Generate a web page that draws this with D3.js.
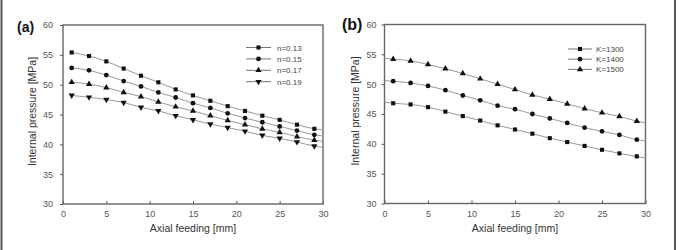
<!DOCTYPE html>
<html><head><meta charset="utf-8">
<script src="https://cdn.jsdelivr.net/npm/d3@7"></script>
<style>body{margin:0;background:#fff}svg{display:block;font-family:"Liberation Sans",Arial,sans-serif}</style>
</head><body><svg id="c" width="680" height="250"></svg>
<script>
const xs = [1,3,5,7,9,11,13,15,17,19,21,23,25,27,29];
const xTicks = [0,5,10,15,20,25,30];
const yTicks = [30,35,40,45,50,55,60];

const seriesA = ["n=0.13","n=0.15","n=0.17","n=0.19"];
const a013 = [55.4,54.8,53.9,52.7,51.5,50.4,49.2,48.2,47.3,46.4,45.6,44.8,44.1,43.3,42.6];
const a015 = [52.8,52.4,51.6,50.6,49.7,48.7,47.85,46.9,46.1,45.2,44.4,43.7,43.0,42.3,41.6];
const a017 = [50.4,50.1,49.5,48.7,48.0,47.1,46.3,45.6,44.8,44.0,43.3,42.6,42.0,41.3,40.7];
const a019 = [48.2,47.9,47.5,47.0,46.2,45.6,44.8,44.1,43.4,42.8,42.2,41.5,41.0,40.4,39.7];
const aEnd = [42.4,41.4,40.5,39.5];

const seriesB = ["K=1300","K=1400","K=1500"];
const b1300 = [46.8,46.6,46.15,45.4,44.65,43.9,43.1,42.4,41.7,40.95,40.3,39.65,39.0,38.4,37.9];
const b1400 = [50.5,50.2,49.7,49.0,48.1,47.3,46.4,45.8,45.0,44.25,43.5,42.7,42.1,41.5,40.7];
const b1500 = [54.2,53.9,53.3,52.6,51.8,50.9,50.0,49.1,48.2,47.5,46.7,45.9,45.2,44.6,43.8];
const bStart = [47.0,50.6,54.3];
const bEnd = [37.6,40.5,43.5];

const svg = d3.select("#c");
svg.append("line").attr("x1",1.5).attr("x2",1.5).attr("y1",0).attr("y2",250).attr("stroke","#555").attr("stroke-width",2);
svg.append("line").attr("x1",675).attr("x2",675).attr("y1",0).attr("y2",250).attr("stroke","#555").attr("stroke-width",2);

function drawMarker(g, x, y, i){
  if (i === 3){
    g.append("path").attr("d", d3.symbol(d3.symbolTriangle, 17)()).attr("transform",`translate(${x},${y}) rotate(180)`).attr("fill","#111");
  } else {
    const s = [d3.symbolSquare, d3.symbolCircle, d3.symbolTriangle][i];
    const size = [17,18,17][i];
    g.append("path").attr("d", d3.symbol(s, size)()).attr("transform",`translate(${x},${y})`).attr("fill","#111");
  }
}

function panel(opts){
  const {left,right,top,bottom,label,labelX,labelY,series,names,starts,ends,leg,markerIdx,titleX,tickLabelGap} = opts;
  const g = svg.append("g");
  const x = d3.scaleLinear().domain([0,30]).range([left,right]);
  const y = d3.scaleLinear().domain([30,60]).range([bottom,top]);
  const ya = g.append("g").attr("transform",`translate(${left},0)`)
    .call(d3.axisLeft(y).tickValues(yTicks).tickSize(3).tickPadding(tickLabelGap));
  const xa = g.append("g").attr("transform",`translate(0,${bottom})`)
    .call(d3.axisBottom(x).tickValues(xTicks).tickSizeInner(-3).tickSizeOuter(0).tickPadding(7));
  [ya,xa].forEach(a=>{
    a.select(".domain").remove();
    a.selectAll("line").attr("stroke","#555");
    a.selectAll("text").attr("fill","#555").style("font-size","9px");
  });
  g.append("rect").attr("x",left).attr("y",top).attr("width",right-left).attr("height",bottom-top)
    .attr("fill","none").attr("stroke","#666").attr("stroke-width",1.4);
  const line = d3.line().x(d=>x(d[0])).y(d=>y(d[1])).curve(d3.curveMonotoneX);
  series.forEach((vals,i)=>{
    let pts = xs.map((xv,j)=>[xv,vals[j]]);
    if (starts) pts = [[0,starts[i]]].concat(pts);
    pts = pts.concat([[30,ends[i]]]);
    g.append("path").attr("d",line(pts)).attr("fill","none").attr("stroke","#999").attr("stroke-width",1);
  });
  series.forEach((vals,i)=>{
    xs.forEach((xv,j)=>drawMarker(g, x(xv), y(vals[j]), markerIdx[i]));
  });
  names.forEach((n,i)=>{
    const ly = leg.y + i*leg.dy;
    g.append("line").attr("x1",leg.x1).attr("x2",leg.x2).attr("y1",ly).attr("y2",ly).attr("stroke","#777").attr("stroke-width",1);
    drawMarker(g,(leg.x1+leg.x2)/2, ly, markerIdx[i]);
    g.append("text").attr("x",leg.tx).attr("y",ly+3).text(n).attr("fill","#444").style("font-size","8px");
  });
  g.append("text").attr("x",(left+right)/2).attr("y",232).attr("text-anchor","middle").attr("fill","#333").style("font-size","10.5px").text("Axial feeding [mm]");
  g.append("text").attr("transform",`translate(${titleX},${(top+bottom)/2 - 3}) rotate(-90)`).attr("text-anchor","middle").attr("fill","#333").style("font-size","10.5px").text("Internal pressure [MPa]");
  g.append("text").attr("x",labelX).attr("y",labelY).attr("fill","#111").style("font-size",opts.labelSize).style("font-weight","bold").text(label);
}

panel({left:63,right:323,top:25,bottom:204,label:"(a)",labelX:17,labelY:32,labelSize:"14px",
  series:[a013,a015,a017,a019],names:seriesA,starts:null,ends:aEnd,markerIdx:[0,1,2,3],
  leg:{x1:246,x2:271,y:47.5,dy:11.4,tx:277},titleX:36,tickLabelGap:7});
panel({left:384.5,right:645.5,top:24.5,bottom:203.5,label:"(b)",labelX:342,labelY:30,labelSize:"16px",
  series:[b1300,b1400,b1500],names:seriesB,starts:bStart,ends:bEnd,markerIdx:[0,1,2],
  leg:{x1:568,x2:592,y:49,dy:10.2,tx:596},titleX:359,tickLabelGap:5});
</script></body></html>
